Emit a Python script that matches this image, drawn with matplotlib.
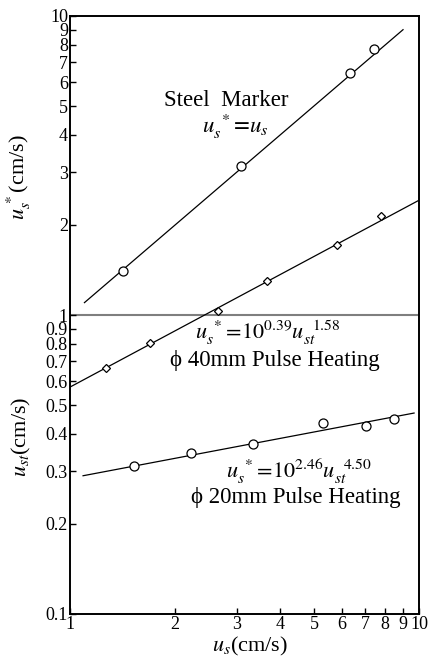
import numpy as np
import matplotlib
matplotlib.use("Agg")
import matplotlib.pyplot as plt
from matplotlib.ticker import FixedLocator, FixedFormatter, NullLocator

plt.rcParams['font.family'] = ['Liberation Serif', 'DejaVu Serif']
plt.rcParams['mathtext.fontset'] = 'stix'

# steel marker: u_s* vs u_s
steel_x = [1.42, 3.09, 6.34, 7.43]
steel_y = [1.40, 3.15, 6.45, 7.76]
steel_line_x = [1.10, 9.0]
steel_line_y = [1.10, 9.0]

# phi 40mm pulse heating (diamonds)
d40_x = [1.27, 1.69, 2.66, 3.67, 5.82, 7.78]
d40_y = [0.665, 0.806, 1.03, 1.30, 1.715, 2.14]
d40_line_x = [1.0, 10.0]
d40_line_y = [0.574, 2.42]

# phi 20mm pulse heating (circles)
d20_x = [1.525, 2.22, 3.345, 5.31, 7.05, 8.48]
d20_y = [0.313, 0.346, 0.370, 0.435, 0.425, 0.449]
d20_line_x = [1.09, 9.68]
d20_line_y = [0.290, 0.470]

xticks = [1, 2, 3, 4, 5, 6, 7, 8, 9, 10]
yticks = [0.1, 0.2, 0.3, 0.4, 0.5, 0.6, 0.7, 0.8, 0.9, 1, 2, 3, 4, 5, 6, 7, 8, 9, 10]
ytick_labels = ['0.1', '0.2', '0.3', '0.4', '0.5', '0.6', '0.7', '0.8', '0.9',
                '1', '2', '3', '4', '5', '6', '7', '8', '9', '10']

W, H = 429, 662
fig = plt.figure(figsize=(W / 100, H / 100), dpi=100)
ax = fig.add_axes([70 / W, 1 - 614 / H, 349 / W, 598 / H])
ax.set_xscale('log')
ax.set_yscale('log')
ax.set_xlim(1, 10)
ax.set_ylim(0.1, 10)

ax.axhline(1, color='#7f7f7f', lw=1.5, zorder=1)

ax.plot(steel_line_x, steel_line_y, color='black', lw=0.9)
ax.plot(steel_x, steel_y, 'o', mfc='white', mec='black', ms=6.5, mew=0.9)
ax.plot(d40_line_x, d40_line_y, color='black', lw=0.9)
ax.plot(d40_x, d40_y, 'D', mfc='white', mec='black', ms=4.2, mew=0.9)
ax.plot(d20_line_x, d20_line_y, color='black', lw=0.9)
ax.plot(d20_x, d20_y, 'o', mfc='white', mec='black', ms=6.5, mew=0.9)

ax.xaxis.set_major_locator(FixedLocator(xticks))
ax.xaxis.set_major_formatter(FixedFormatter([str(t) for t in xticks]))
ax.xaxis.set_minor_locator(NullLocator())
ax.yaxis.set_major_locator(FixedLocator(yticks))
ax.yaxis.set_major_formatter(FixedFormatter(ytick_labels))
ax.yaxis.set_minor_locator(NullLocator())
ax.tick_params(direction='in', length=4, width=1, labelsize=13, pad=1.5,
               top=False, right=False)
for s in ax.spines.values():
    s.set_linewidth(1.4)

# axis labels
fig.text(19 / W, 1 - 177 / H, r'$u_s^{\,*}$(cm/s)', rotation=90,
         ha='center', va='center', fontsize=16)
fig.text(21 / W, 1 - 437 / H, r'$u_{st}$(cm/s)', rotation=90,
         ha='center', va='center', fontsize=16)
fig.text(250 / W, 1 - 646 / H, r'$u_s$(cm/s)', ha='center', va='center', fontsize=16)

# annotations
fig.text(226 / W, 1 - 100 / H, 'Steel  Marker', ha='center', va='center', fontsize=16.5)
fig.text(235 / W, 1 - 126 / H, r'$u_s^{\ *}\!=\!u_s$', ha='center', va='center', fontsize=16.5)
fig.text(268 / W, 1 - 333 / H, r'$u_s^{\ *}\!=\!10^{0.39}u_{st}^{\ \ 1.58}$',
         ha='center', va='center', fontsize=16)
fig.text(275 / W, 1 - 361 / H, 'ϕ 40mm Pulse Heating', ha='center', va='center', fontsize=16.5)
fig.text(299 / W, 1 - 471 / H, r'$u_s^{\ *}\!=\!10^{2.46}u_{st}^{\ \ 4.50}$',
         ha='center', va='center', fontsize=16)
fig.text(296 / W, 1 - 498 / H, 'ϕ 20mm Pulse Heating', ha='center', va='center', fontsize=16.5)

fig.savefig('out.png', dpi=100, facecolor='white')
